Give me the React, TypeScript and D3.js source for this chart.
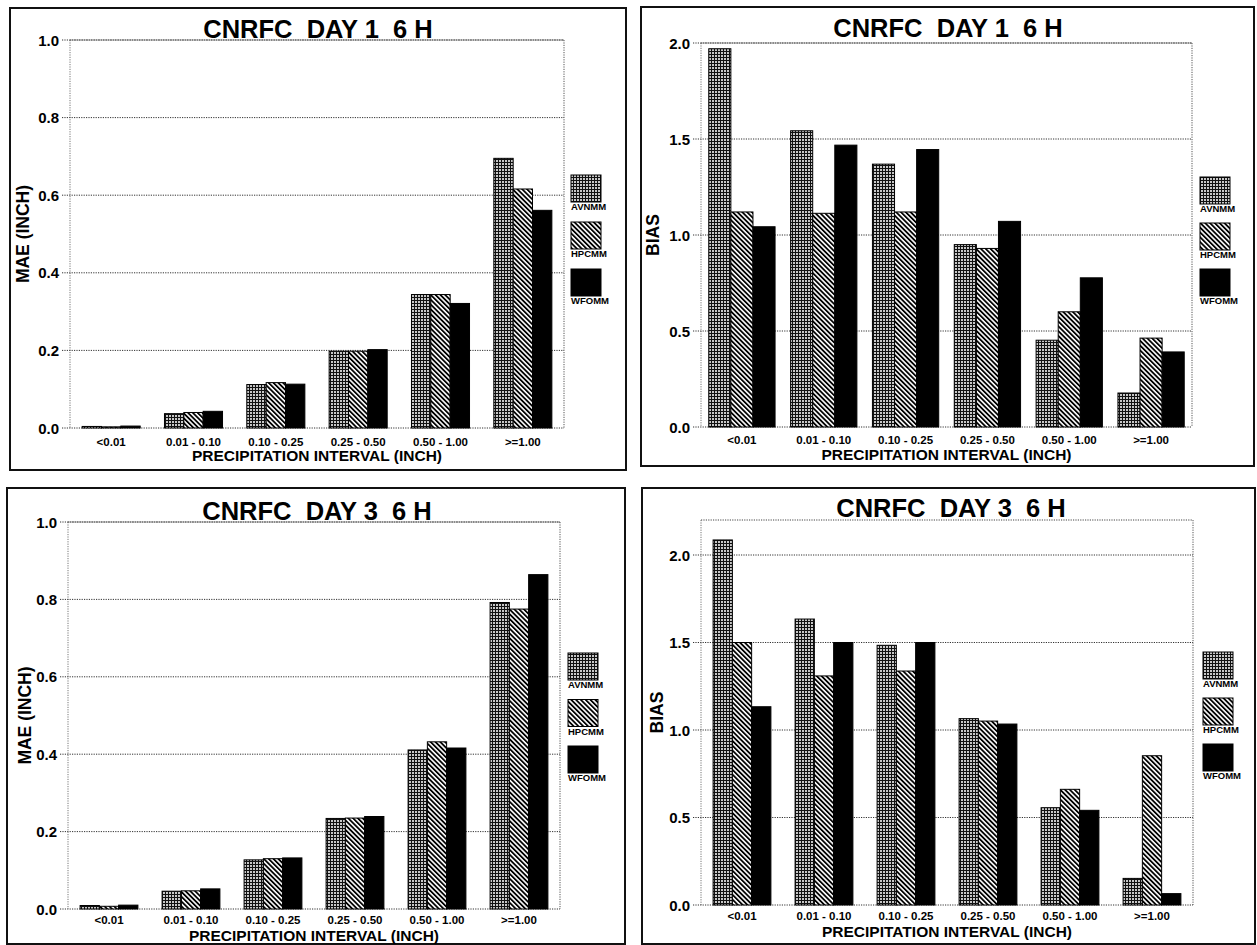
import React from "react";
import * as d3 from "d3";

const categories = ["<0.01", "0.01 - 0.10", "0.10 - 0.25", "0.25 - 0.50", "0.50 - 1.00", ">=1.00"];
const seriesNames = ["AVNMM", "HPCMM", "WFOMM"];

const maeTicks = [0, 0.2, 0.4, 0.6, 0.8, 1.0];
const biasTicks = [0, 0.5, 1.0, 1.5, 2.0];

const maeDay1Avn = [0.004, 0.037, 0.112, 0.198, 0.344, 0.695];
const maeDay1Hpc = [0.003, 0.040, 0.117, 0.198, 0.344, 0.616];
const maeDay1Wfo = [0.005, 0.043, 0.113, 0.202, 0.321, 0.561];

const biasDay1Avn = [1.970, 1.543, 1.369, 0.950, 0.452, 0.177];
const biasDay1Hpc = [1.120, 1.113, 1.120, 0.930, 0.600, 0.463];
const biasDay1Wfo = [1.043, 1.468, 1.445, 1.071, 0.777, 0.391];

const maeDay3Avn = [0.009, 0.046, 0.127, 0.234, 0.411, 0.792];
const maeDay3Hpc = [0.007, 0.047, 0.130, 0.235, 0.432, 0.775];
const maeDay3Wfo = [0.010, 0.052, 0.132, 0.239, 0.416, 0.864];

const biasDay3Avn = [2.086, 1.634, 1.484, 1.065, 0.556, 0.152];
const biasDay3Hpc = [1.500, 1.309, 1.337, 1.051, 0.661, 0.853];
const biasDay3Wfo = [1.133, 1.500, 1.500, 1.034, 0.541, 0.065];

const FONT = "'Liberation Sans', Arial, Helvetica, sans-serif";
const fills = ["url(#patGrid)", "url(#patDiag)", "#000"];

const panels = [
  {
    key: "p1", title: "CNRFC  DAY 1  6 H", yTitle: "MAE (INCH)",
    frame: { l: 10, t: 8, r: 626, b: 470 },
    plot: { l: 70, t: 40, r: 564, b: 428 },
    yMax: 1.0, ticks: maeTicks, values: [maeDay1Avn, maeDay1Hpc, maeDay1Wfo],
    titleX: 318, titleY: 38, yTitleX: 29, padInner: 0.295, catDy: 18, xtDy: 33,
    legend: { x: 571, y: 175, pitch: 47 },
  },
  {
    key: "p2", title: "CNRFC  DAY 1  6 H", yTitle: "BIAS",
    frame: { l: 641, t: 7, r: 1254, b: 466 },
    plot: { l: 701, t: 43, r: 1192, b: 427 },
    yMax: 2.0, ticks: biasTicks, values: [biasDay1Avn, biasDay1Hpc, biasDay1Wfo],
    titleX: 948, titleY: 37, yTitleX: 659, padInner: 0.19, catDy: 17, xtDy: 33,
    legend: { x: 1200, y: 177, pitch: 46 },
  },
  {
    key: "p3", title: "CNRFC  DAY 3  6 H", yTitle: "MAE (INCH)",
    frame: { l: 7, t: 488, r: 625, b: 944 },
    plot: { l: 68, t: 522, r: 560, b: 909 },
    yMax: 1.0, ticks: maeTicks, values: [maeDay3Avn, maeDay3Hpc, maeDay3Wfo],
    titleX: 317, titleY: 520, yTitleX: 31, padInner: 0.295, catDy: 15, xtDy: 31.5,
    legend: { x: 568, y: 653, pitch: 46.5 },
  },
  {
    key: "p4", title: "CNRFC  DAY 3  6 H", yTitle: "BIAS",
    frame: { l: 642, t: 488, r: 1255, b: 944 },
    plot: { l: 701, t: 520, r: 1193, b: 905 },
    yMax: 2.2, ticks: biasTicks, values: [biasDay3Avn, biasDay3Hpc, biasDay3Wfo],
    titleX: 951, titleY: 517, yTitleX: 663, padInner: 0.295, catDy: 15, xtDy: 32,
    legend: { x: 1203, y: 652, pitch: 46 },
  },
];

const fmt = d3.format(".1f");

function Panel({ cfg }: { cfg: any }) {
  const { frame, plot, yMax, ticks, values, title, titleX, titleY, yTitle, yTitleX, legend, padInner, catDy, xtDy } = cfg;
  const x0 = d3.scaleBand<string>().domain(categories).range([plot.l, plot.r]).paddingInner(padInner).paddingOuter(padInner / 2);
  const x1 = d3.scaleBand<string>().domain(seriesNames).range([0, x0.bandwidth()]).padding(0);
  const y = d3.scaleLinear().domain([0, yMax]).range([plot.b, plot.t]);
  const dot = "1.2,1.2";
  return (
    <g>
      <rect x={frame.l} y={frame.t} width={frame.r - frame.l} height={frame.b - frame.t} fill="#fff" stroke="#111" strokeWidth={2} />
      <line x1={plot.l} x2={plot.r} y1={y(yMax)} y2={y(yMax)} stroke="#444" strokeDasharray={dot} strokeWidth={1} />
      <line x1={plot.l} x2={plot.l} y1={y(yMax)} y2={y(0)} stroke="#777" strokeDasharray={dot} strokeWidth={1} />
      <line x1={plot.r} x2={plot.r} y1={y(yMax)} y2={y(0)} stroke="#555" strokeDasharray={dot} strokeWidth={1} />
      {ticks.map((t: number) => (
        <g key={t}>
          <line x1={plot.l - 8} x2={plot.r} y1={y(t)} y2={y(t)} stroke="#333" strokeDasharray={dot} strokeWidth={1} />
          <text x={plot.l - 11} y={y(t) + 5.5} textAnchor="end" fontFamily={FONT} fontWeight="bold" fontSize={15} fill="#000">{fmt(t)}</text>
        </g>
      ))}
      {categories.map((c, i) => (
        <g key={c}>
          {seriesNames.map((s, j) => {
            const v = values[j][i];
            const bx = (x0(c) as number) + (x1(s) as number);
            return (
              <rect key={s} x={bx} y={y(v)} width={x1.bandwidth()} height={y(0) - y(v)} fill={fills[j]} stroke="#000" strokeWidth={1} />
            );
          })}
          <text x={(x0(c) as number) + x0.bandwidth() / 2} y={plot.b + catDy} textAnchor="middle" fontFamily={FONT} fontWeight="bold" fontSize={11.5} fill="#000">{c}</text>
        </g>
      ))}
      <text x={titleX} y={titleY} textAnchor="middle" fontFamily={FONT} fontWeight="bold" fontSize={25.5} fill="#000" style={{ whiteSpace: "pre" }}>{title}</text>
      <text x={(plot.l + plot.r) / 2} y={plot.b + xtDy} textAnchor="middle" fontFamily={FONT} fontWeight="bold" fontSize={15.5} fill="#000">PRECIPITATION INTERVAL (INCH)</text>
      <text transform={`translate(${yTitleX},${(plot.t + plot.b) / 2}) rotate(-90)`} textAnchor="middle" fontFamily={FONT} fontWeight="bold" fontSize={17.5} fill="#000">{yTitle}</text>
      {seriesNames.map((s, j) => (
        <g key={s}>
          <rect x={legend.x} y={legend.y + j * legend.pitch} width={30} height={27} fill={fills[j]} stroke="#000" strokeWidth={1} />
          <text x={legend.x} y={legend.y + j * legend.pitch + 35} fontFamily={FONT} fontWeight="bold" fontSize={9.5} fill="#000">{s}</text>
        </g>
      ))}
    </g>
  );
}

export default function App() {
  return (
    <div>
      <style>{`body{margin:0;background:#fff}`}</style>
      <svg width={1257} height={945} viewBox="0 0 1257 945" style={{ display: "block" }}>
        <defs>
          <pattern id="patGrid" width={3} height={3} patternUnits="userSpaceOnUse">
            <rect width={3} height={3} fill="#c8c8c8" />
            <rect width={3} height={1} fill="#111" />
            <rect width={1} height={3} fill="#111" />
          </pattern>
          <pattern id="patDiag" width={3.4} height={3.4} patternUnits="userSpaceOnUse" patternTransform="rotate(-45)">
            <rect width={3.4} height={3.4} fill="#fff" />
            <rect width={1.8} height={3.4} fill="#000" />
          </pattern>
        </defs>
        <rect width={1257} height={945} fill="#fff" />
        {panels.map((p) => <Panel key={p.key} cfg={p} />)}
      </svg>
    </div>
  );
}
